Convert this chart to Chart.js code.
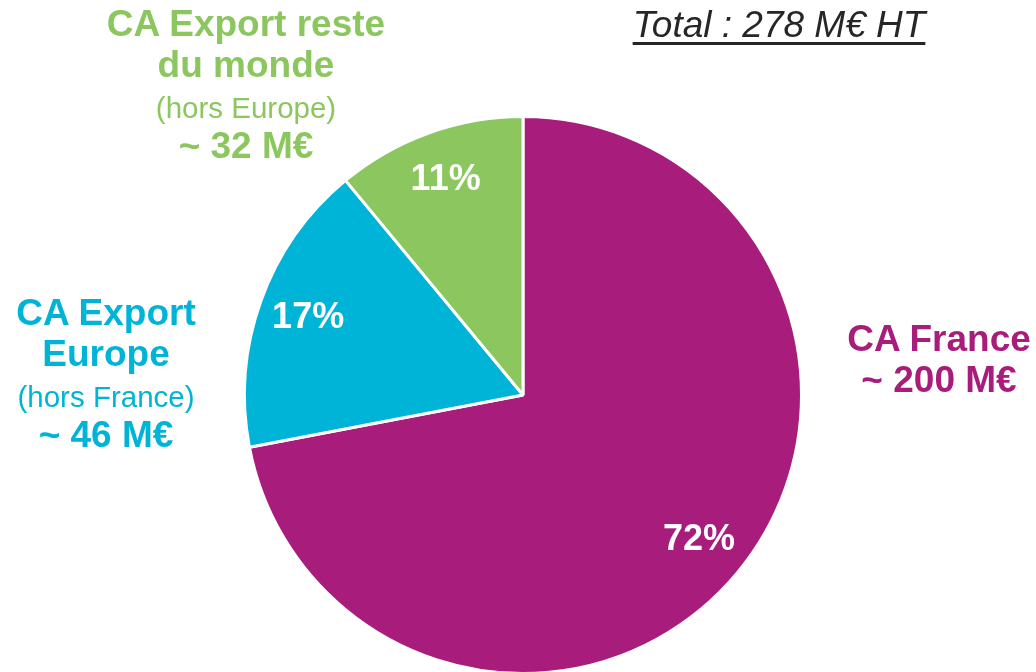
<!DOCTYPE html>
<html>
<head>
<meta charset="utf-8">
<script src="https://cdn.jsdelivr.net/npm/chart.js@4"></script>
<style>
  html, body { margin: 0; padding: 0; background: #fff; overflow: hidden; }
  #wrap { position: relative; width: 1036px; height: 672px; overflow: hidden; }
  #pie { position: absolute; left: 0; top: 0; }
  .lbl { position: absolute; white-space: nowrap; transform: translateX(-50%);
         font-family: "Liberation Sans", Arial, sans-serif; line-height: 1; }
  .big { font-size: 37px; font-weight: bold; }
  .small { font-size: 29.5px; }
  .total { font-size: 37px; font-style: italic; color: #262626; text-decoration: underline;
           text-decoration-thickness: 3px; text-underline-offset: 5px; }
</style>
</head>
<body>
<div id="wrap">
  <canvas id="pie" width="1036" height="676"></canvas>
  <div id="labels"></div>
</div>
<script>
// Data
const categories = ['CA France', 'CA Export Europe', 'CA Export reste du monde'];
const shares = [72, 17, 11];          // % shown inside the slices
const amounts = [200, 46, 32];        // M€
const colors = ['#A81C7B', '#00B4D8', '#8BC65E'];

// Outside labels: lines per category [text, class, baseline y], block centre x
const labelBlocks = [
  { x: 939, lines: [['CA France', 'big', 351], ['~ ' + amounts[0] + ' M€', 'big', 392]] },
  { x: 106, lines: [['CA Export', 'big', 325], ['Europe', 'big', 366],
                    ['(hors France)', 'small', 406], ['~ ' + amounts[1] + ' M€', 'big', 447]] },
  { x: 246, lines: [['CA Export reste', 'big', 36], ['du monde', 'big', 77],
                    ['(hors Europe)', 'small', 117], ['~ ' + amounts[2] + ' M€', 'big', 158]] }
];

const labelsEl = document.getElementById('labels');
const baselineOffset = { big: 31, small: 24.5 };
labelBlocks.forEach((b, i) => {
  b.lines.forEach(([txt, cls, base]) => {
    const d = document.createElement('div');
    d.className = 'lbl ' + cls;
    d.style.left = b.x + 'px';
    d.style.top = (base - baselineOffset[cls]) + 'px';
    d.style.color = colors[i];
    d.textContent = txt;
    labelsEl.appendChild(d);
  });
});

// Total line
const total = amounts.reduce((a, b) => a + b, 0);
const t = document.createElement('div');
t.className = 'lbl total';
t.style.left = '779px';
t.style.top = (37 - 31) + 'px';
t.textContent = 'Total : ' + total + ' M€ HT';
labelsEl.appendChild(t);

// Percentages inside the slices
const pctLabels = {
  id: 'pctLabels',
  afterDatasetsDraw(chart) {
    const ctx = chart.ctx;
    const meta = chart.getDatasetMeta(0);
    ctx.save();
    ctx.fillStyle = '#fff';
    ctx.font = 'bold 36px "Liberation Sans", Arial, sans-serif';
    ctx.textAlign = 'center';
    ctx.textBaseline = 'middle';
    meta.data.forEach((arc, i) => {
      const mid = (arc.startAngle + arc.endAngle) / 2;
      const r = arc.outerRadius * 0.82;
      ctx.fillText(shares[i] + '%', arc.x + Math.cos(mid) * r, arc.y + Math.sin(mid) * r);
    });
    ctx.restore();
  }
};

new Chart(document.getElementById('pie'), {
  type: 'pie',
  data: {
    labels: categories,
    datasets: [{
      data: shares,
      backgroundColor: colors,
      borderColor: '#fff',
      borderWidth: 3
    }]
  },
  options: {
    responsive: false,
    animation: false,
    layout: { padding: { left: 243, right: 233, top: 115, bottom: 1 } },
    plugins: { legend: { display: false }, tooltip: { enabled: false } }
  },
  plugins: [pctLabels]
});
</script>
</body>
</html>
